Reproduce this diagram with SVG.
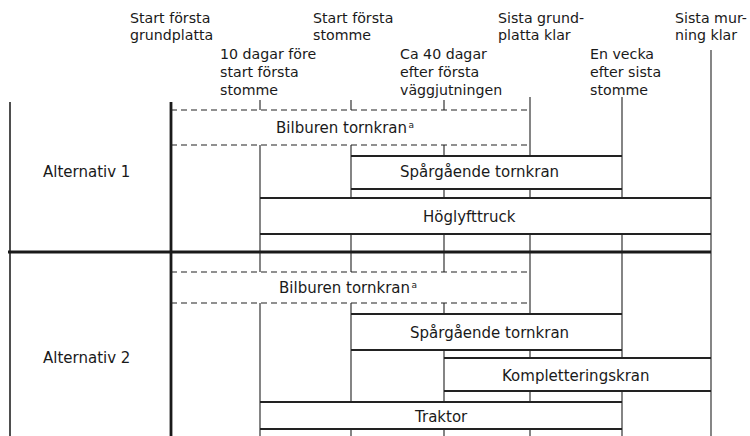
<svg xmlns="http://www.w3.org/2000/svg" width="750" height="436" viewBox="0 0 750 436">
<style>
.hdr{font-family:"DejaVu Sans",sans-serif;font-size:14.2px;fill:#1a1a1a}
.lbl{font-family:"DejaVu Sans",sans-serif;font-size:15px;fill:#1a1a1a}
.sup{font-size:9px}
.bar{stroke:#222222;stroke-width:1.8;fill:none}
.dash{stroke:#222222;stroke-width:1.2;stroke-dasharray:6 4;fill:none}
.v{stroke:#222222;stroke-width:1.1;fill:none}
.thick{stroke:#1a1a1a;stroke-width:2.8;fill:none}
</style>
<rect width="750" height="436" fill="#ffffff"/>

<g id="headers">
<g id="h-start-grundplatta"><text class="hdr"><tspan x="130" y="23">Start första</tspan><tspan x="130" y="40">grundplatta</tspan></text></g>
<g id="h-10-dagar"><text class="hdr"><tspan x="220" y="59">10 dagar före</tspan><tspan x="220" y="77">start första</tspan><tspan x="220" y="95">stomme</tspan></text></g>
<g id="h-start-stomme"><text class="hdr"><tspan x="313" y="23">Start första</tspan><tspan x="313" y="40">stomme</tspan></text></g>
<g id="h-ca-40"><text class="hdr"><tspan x="400" y="59">Ca 40 dagar</tspan><tspan x="400" y="77">efter första</tspan><tspan x="400" y="95">väggjutningen</tspan></text></g>
<g id="h-sista-grund"><text class="hdr"><tspan x="498" y="23">Sista grund-</tspan><tspan x="498" y="40">platta klar</tspan></text></g>
<g id="h-en-vecka"><text class="hdr"><tspan x="590" y="59">En vecka</tspan><tspan x="590" y="77">efter sista</tspan><tspan x="590" y="95">stomme</tspan></text></g>
<g id="h-sista-murning"><text class="hdr"><tspan x="675" y="23">Sista mur-</tspan><tspan x="675" y="40">ning klar</tspan></text></g>
</g>

<g id="connectors">
<line class="v" x1="10" y1="102" x2="10" y2="436" style="stroke-width:1.6"/>
<line class="thick" x1="171" y1="102" x2="171" y2="436"/>
<line class="thick" x1="8" y1="252" x2="711" y2="252"/>
<path class="v" d="M260 100V110M260 145V252M260 252V272M260 303V436"/>
<path class="v" d="M351 100V110M351 145V198M351 234V272M351 303V402M351 429V436"/>
<path class="v" d="M444 100V110M444 145V156M444 189V198M444 234V272M444 303V314M444 350V402M444 429V436"/>
<path class="v" d="M530 97V156M530 189V198M530 234V314M530 350V358M530 391V402M530 429V436"/>
<path class="v" d="M622 97V198M622 234V358M622 391V436"/>
<path class="v" d="M711 50V436"/>
</g>

<g id="alt1">
<text class="lbl" x="43" y="176.5">Alternativ 1</text>
</g>
<g id="alt2">
<text class="lbl" x="43" y="363">Alternativ 2</text>
</g>

<g id="a1-bilburen">
<line class="dash" x1="171" y1="110" x2="530" y2="110"/>
<line class="dash" x1="171" y1="145" x2="530" y2="145"/>
<text class="lbl" x="276" y="132.5">Bilburen tornkran<tspan class="sup" dx="1.5" dy="-5">a</tspan></text>
</g>
<g id="a1-spargaende">
<line class="bar" x1="351" y1="156" x2="622" y2="156"/>
<line class="bar" x1="351" y1="189" x2="622" y2="189"/>
<text class="lbl" x="400" y="177">Spårgående tornkran</text>
</g>
<g id="a1-hoglyfttruck">
<line class="bar" x1="260" y1="198" x2="711" y2="198"/>
<line class="bar" x1="260" y1="234" x2="711" y2="234"/>
<text class="lbl" x="423" y="222">Höglyfttruck</text>
</g>

<g id="a2-bilburen">
<line class="dash" x1="171" y1="272" x2="530" y2="272"/>
<line class="dash" x1="171" y1="303" x2="530" y2="303"/>
<text class="lbl" x="279" y="292.5">Bilburen tornkran<tspan class="sup" dx="1.5" dy="-5">a</tspan></text>
</g>
<g id="a2-spargaende">
<line class="bar" x1="351" y1="314" x2="622" y2="314"/>
<line class="bar" x1="351" y1="350" x2="622" y2="350"/>
<text class="lbl" x="410" y="338">Spårgående tornkran</text>
</g>
<g id="a2-komplettering">
<line class="bar" x1="444" y1="358" x2="711" y2="358"/>
<line class="bar" x1="444" y1="391" x2="711" y2="391"/>
<text class="lbl" x="502" y="380.5">Kompletteringskran</text>
</g>
<g id="a2-traktor">
<line class="bar" x1="260" y1="402" x2="622" y2="402"/>
<line class="bar" x1="260" y1="429" x2="622" y2="429"/>
<text class="lbl" x="415" y="421.5">Traktor</text>
</g>
</svg>
